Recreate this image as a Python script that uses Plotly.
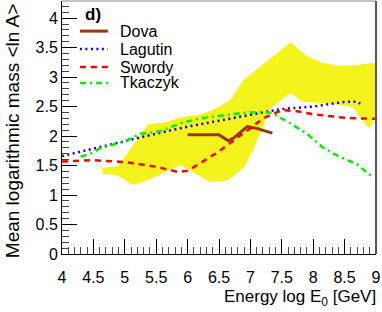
import plotly.graph_objects as go

# Yellow band (systematic range)
band_upper_x = [4.64, 4.89, 5.37, 5.68, 5.88, 6.2, 6.4, 6.68, 6.89, 7.64, 7.88, 8.12, 8.39, 8.65, 9.05]
band_upper_y = [1.46, 1.49, 2.20, 2.24, 2.32, 2.36, 2.44, 2.61, 2.95, 3.59, 3.37, 3.25, 3.19, 3.20, 3.25]
band_lower_x = [9.05, 8.89, 8.63, 8.39, 7.83, 7.64, 7.32, 7.16, 7.04, 6.89, 6.64, 6.36, 5.88, 5.61, 5.36, 5.13, 4.88, 4.64]
band_lower_y = [2.44, 2.12, 2.49, 2.54, 2.58, 2.73, 2.47, 2.05, 1.76, 1.46, 1.25, 1.22, 1.51, 1.37, 1.25, 1.17, 1.34, 1.36]

dova_x = [6.0, 6.5, 6.65, 6.75, 6.95, 7.1, 7.35]
dova_y = [2.02, 2.02, 1.92, 1.98, 2.16, 2.13, 2.05]

lagutin_x = [4.0, 4.5, 5.0, 5.5, 6.0, 6.5, 7.0, 7.5, 8.0, 8.5, 8.7, 8.75]
lagutin_y = [1.66, 1.79, 1.92, 2.04, 2.16, 2.26, 2.37, 2.46, 2.50, 2.58, 2.58, 2.55]

swordy_x = [4.0, 4.5, 5.0, 5.5, 5.85, 6.0, 6.2, 6.5, 6.8, 7.0, 7.2, 7.5, 7.75, 8.0, 8.5, 9.0]
swordy_y = [1.57, 1.59, 1.56, 1.48, 1.39, 1.41, 1.54, 1.74, 1.98, 2.13, 2.30, 2.44, 2.42, 2.37, 2.31, 2.29]

tkaczyk_x = [4.3, 4.5, 4.6, 5.0, 5.25, 5.55, 5.9, 6.2, 6.85, 7.2, 7.35, 7.6, 7.9, 8.15, 8.4, 8.7, 8.95]
tkaczyk_y = [1.65, 1.72, 1.79, 1.91, 2.04, 2.08, 2.22, 2.30, 2.39, 2.41, 2.39, 2.24, 2.04, 1.81, 1.66, 1.52, 1.30]

series_names = ["Dova", "Lagutin", "Swordy", "Tkaczyk"]
series_colors = ["#98380a", "#0000ff", "#ff0000", "#00ee00"]
series_dash = ["solid", "2px,3.5px", "6px,5px", "6px,4px,2px,4px"]
series_width = [3, 2.5, 2.5, 2.5]

FONT = "Liberation Sans, Arial, sans-serif"

fig = go.Figure()
fig.add_trace(go.Scatter(
    x=band_upper_x + band_lower_x, y=band_upper_y + band_lower_y,
    fill="toself", fillcolor="#f4f41c", line=dict(width=0), mode="lines",
    hoverinfo="skip", showlegend=False))

data = [(dova_x, dova_y), (lagutin_x, lagutin_y), (swordy_x, swordy_y), (tkaczyk_x, tkaczyk_y)]
for (xs, ys), name, col, dash, w in zip(data, series_names, series_colors, series_dash, series_width):
    fig.add_trace(go.Scatter(x=xs, y=ys, mode="lines", name=name,
                             line=dict(color=col, dash=dash, width=w), showlegend=False))

# Manual legend
leg_y = [0.881, 0.810, 0.739, 0.676]
for name, col, dash, w, yy in zip(series_names, series_colors, series_dash, series_width, leg_y):
    fig.add_shape(type="line", xref="paper", yref="paper", x0=0.057, x1=0.146, y0=yy, y1=yy,
                  line=dict(color=col, dash=dash, width=w))
    fig.add_annotation(xref="paper", yref="paper", x=0.178, y=yy, text=name, showarrow=False,
                       xanchor="left", yanchor="middle", font=dict(family=FONT, size=16, color="black"))
fig.add_annotation(xref="paper", yref="paper", x=0.066, y=0.945, text="<b>d)</b>", showarrow=False,
                   xanchor="left", yanchor="middle", font=dict(family=FONT, size=17, color="black"))

# Frame (top and right)
fig.add_shape(type="line", xref="paper", yref="paper", x0=0, x1=1, y0=1, y1=1,
              line=dict(color="#888888", width=1))
fig.add_shape(type="line", xref="paper", yref="paper", x0=1, x1=1, y0=0, y1=1,
              line=dict(color="#555555", width=2))

# Axis titles
fig.add_annotation(xref="paper", yref="paper", x=1.006, y=-0.172, text="Energy log E<sub>0</sub> [GeV]",
                   showarrow=False, xanchor="right", yanchor="middle",
                   font=dict(family=FONT, size=17, color="black"))
fig.add_annotation(xref="paper", yref="paper", x=-0.157, y=1.0, text="Mean logarithmic mass &lt;ln A&gt;",
                   showarrow=False, xanchor="center", yanchor="top", textangle=-90,
                   font=dict(family=FONT, size=19, color="black"))

fig.update_layout(
    width=382, height=312,
    margin=dict(l=62, r=6, t=1, b=58),
    paper_bgcolor="white", plot_bgcolor="white",
    font=dict(family=FONT, size=16, color="black"),
    showlegend=False,
)
fig.update_xaxes(range=[4, 9], dtick=0.5, tick0=4, ticks="inside", ticklen=15, tickcolor="black",
                 showgrid=False, zeroline=False, showline=True, linecolor="black", linewidth=1,
                 automargin=False, ticklabelstandoff=9,
                 tickfont=dict(family=FONT, size=16, color="black"),
                 minor=dict(dtick=0.1, ticks="inside", ticklen=7, tickcolor="#444444", showgrid=False))
fig.update_yaxes(range=[0, 4.29], dtick=0.5, tick0=0, ticks="inside", ticklen=15, tickcolor="black",
                 showgrid=False, zeroline=False, showline=True, linecolor="black", linewidth=1,
                 automargin=False,
                 tickfont=dict(family=FONT, size=16, color="black"),
                 minor=dict(dtick=0.1, ticks="inside", ticklen=7, tickcolor="#444444", showgrid=False))

fig.write_html("out.html", config={"displayModeBar": False},
               post_script="document.body.style.margin='0px';document.body.style.padding='0px';")
